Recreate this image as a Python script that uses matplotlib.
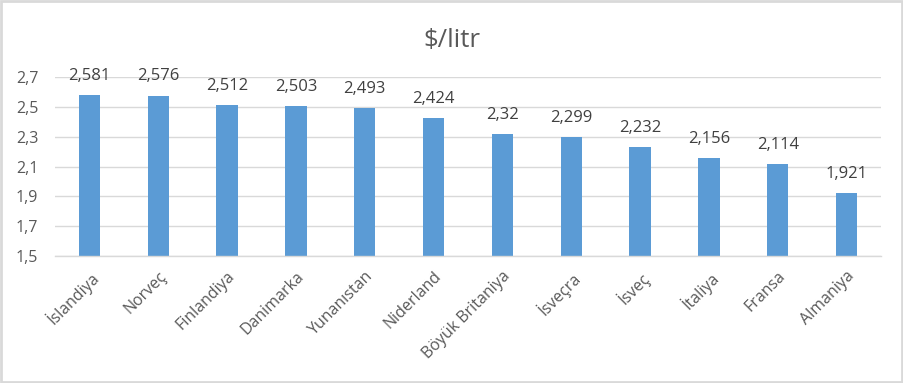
import matplotlib
matplotlib.use("Agg")
import matplotlib.pyplot as plt
from matplotlib.patches import Rectangle

plt.rcParams['font.family'] = ['Open Sans', 'DejaVu Sans']

countries = ["İslandiya", "Norveç", "Finlandiya", "Danimarka", "Yunanıstan", "Niderland",
             "Böyük Britaniya", "İsveçra", "İsveç", "İtaliya", "Fransa", "Almaniya"]
prices = [2.581, 2.576, 2.512, 2.503, 2.493, 2.424, 2.32, 2.299, 2.232, 2.156, 2.114, 1.921]
y_ticks = [1.5, 1.7, 1.9, 2.1, 2.3, 2.5, 2.7]

text_color = "#595959"
bar_color = "#5B9BD5"
grid_color = "#D9D9D9"

fig = plt.figure(figsize=(9.04, 3.83), dpi=100)
ax = fig.add_axes([0.0608, 0.3316, 0.9137, 0.4673])

x = list(range(len(countries)))
ax.bar(x, [p - 1.5 for p in prices], bottom=1.5, width=0.31, color=bar_color, zorder=3)

# value labels above each bar, comma as decimal separator
for xi, p in zip(x, prices):
    label = f"{p:g}".replace(".", ",")
    ax.annotate(label, (xi, p), xytext=(0, 8), textcoords="offset points",
                ha="center", va="bottom", fontsize=12, color="#404040")

ax.set_xlim(-0.5, len(countries) - 0.5)
ax.set_ylim(1.5, 2.7)
ax.set_yticks(y_ticks)
ax.set_yticklabels([f"{t:.1f}".replace(".", ",") for t in y_ticks])
ax.set_xticks(x)
ax.set_xticklabels(countries, rotation=45, ha="right", rotation_mode="anchor")

ax.tick_params(axis="both", length=0, labelsize=11.5, colors=text_color)
ax.tick_params(axis="y", pad=12)
ax.tick_params(axis="x", pad=9)
ax.grid(axis="y", color=grid_color, linewidth=1, zorder=0)
for side in ["top", "right", "left"]:
    ax.spines[side].set_visible(False)
ax.spines["bottom"].set_color(grid_color)
ax.spines["bottom"].set_linewidth(1)
ax.spines["bottom"].set_zorder(4)

fig.text(0.5, 0.895, "$/litr", ha="center", va="center", fontsize=18.5, color=text_color)

# light gray frame around the whole chart
fig.patches.append(Rectangle((0.001, 0.002), 0.997, 0.995, transform=fig.transFigure,
                             fill=False, edgecolor=grid_color, linewidth=2))

fig.savefig("out.png", dpi=100)
